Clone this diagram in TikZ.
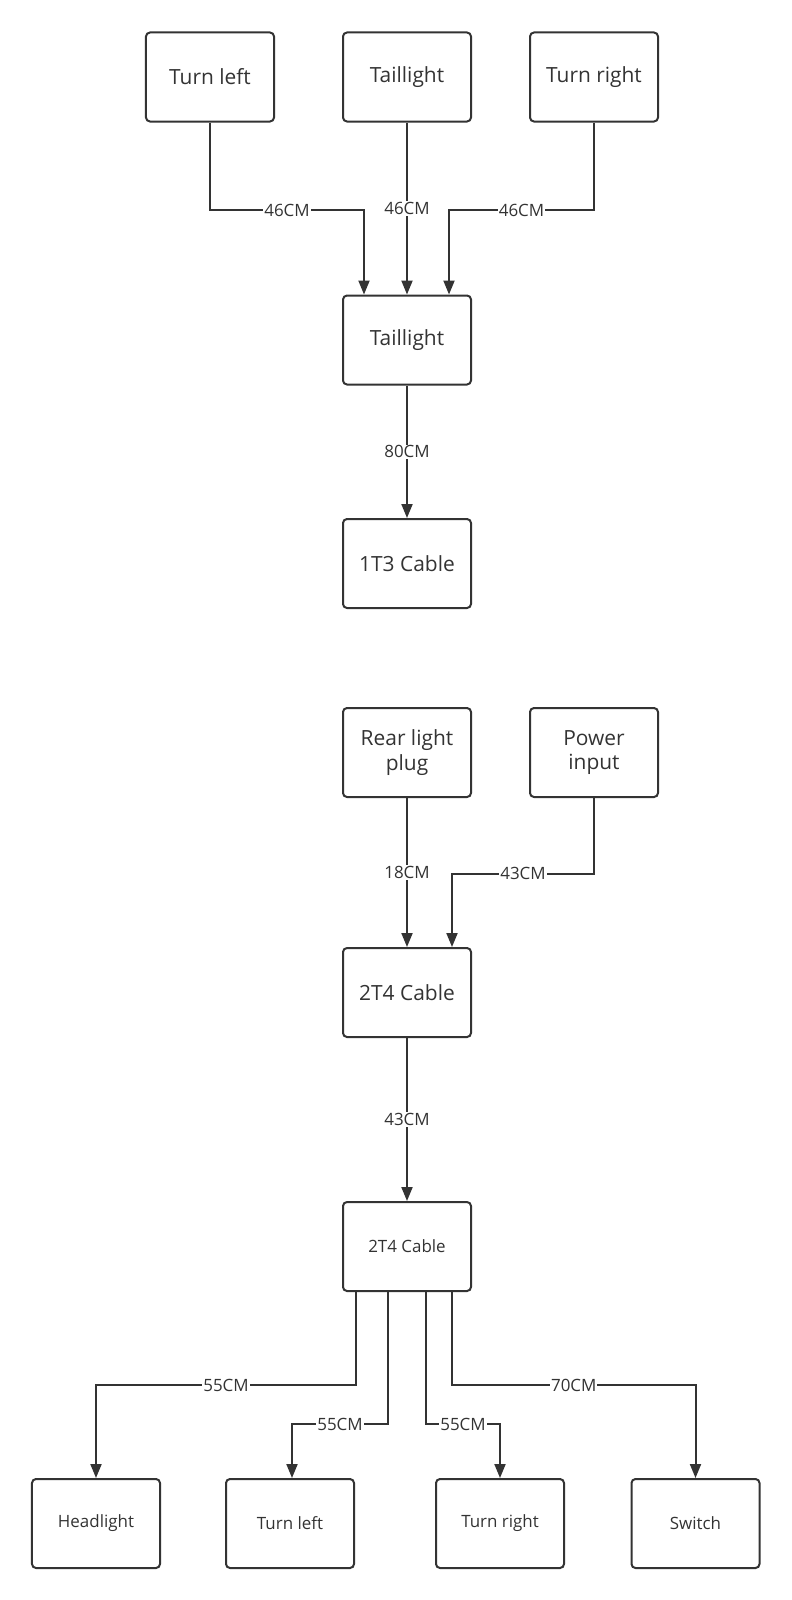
\documentclass[tikz,border=0pt]{standalone}
\usepackage{fontspec}
\setmainfont{Open Sans}
\usepackage{xcolor}
\usepackage{tikz}
\usetikzlibrary{positioning,arrows.meta}

\definecolor{ink}{HTML}{333333}
\tikzset{
  box/.style={draw=ink, line width=2bp, rounded corners=4bp, minimum width=128bp,
    minimum height=89bp, align=center, text=ink, font=\fontsize{21}{25}\selectfont},
  smallbox/.style={box, font=\fontsize{17}{20}\selectfont},
  wire/.style={draw=ink, line width=2bp, -{Triangle[length=14bp,width=11bp]}},
  len/.style={fill=white, text=ink, inner sep=1bp, font=\fontsize{17}{20}\selectfont}
}

\begin{document}
\begin{tikzpicture}[x=1bp, y=-1bp]
  \useasboundingbox (0,0) rectangle (792,1600);

  % first harness
  \node[box] (ttail) at (407,77) {Taillight};
  \node[box] (tleft) [left=67bp of ttail] {Turn left};
  \node[box] (tright) [right=57bp of ttail] {Turn right};
  \node[box] (tail) [below=172bp of ttail] {Taillight};
  \node[box] (cable13) [below=132.5bp of tail] {1T3 Cable};

  \draw[wire] (tleft.south) -- ++(0,87.5) -| node[len, pos=0.25] {46CM} ([xshift=-43bp]tail.north);
  \draw[wire] (ttail.south) -- node[len] {46CM} (tail.north);
  \draw[wire] (tright.south) -- ++(0,87.5) -| node[len, pos=0.25] {46CM} ([xshift=42bp]tail.north);
  \draw[wire] (tail.south) -- node[len] {80CM} (cable13.north);

  % second harness
  \node[box] (plug) [below=98bp of cable13] {Rear light\\plug};
  \node[box] (power) [right=57bp of plug] {Power\\input};
  \node[box] (cableA) [below=149bp of plug] {2T4 Cable};
  \node[smallbox] (cableB) [below=163bp of cableA] {2T4 Cable};

  \node[smallbox] (head) at (96,1523.5) {Headlight};
  \node[smallbox] (bleft) at (290,1523.5) {Turn left};
  \node[smallbox] (bright) at (500,1523.5) {Turn right};
  \node[smallbox] (switch) at (695.5,1523.5) {Switch};

  \draw[wire] (plug.south) -- node[len] {18CM} (cableA.north);
  \draw[wire] (power.south) -- ++(0,75.5) -| node[len, pos=0.25] {43CM} ([xshift=45bp]cableA.north);
  \draw[wire] (cableA.south) -- node[len] {43CM} (cableB.north);

  \draw[wire] ([xshift=-51bp]cableB.south) -- ++(0,93) -| node[len, pos=0.25] {55CM} (head.north);
  \draw[wire] ([xshift=-19bp]cableB.south) -- ++(0,132) -| node[len, pos=0.25] {55CM} ([xshift=2bp]bleft.north);
  \draw[wire] ([xshift=19bp]cableB.south) -- ++(0,132) -| node[len, pos=0.25] {55CM} (bright.north);
  \draw[wire] ([xshift=45bp]cableB.south) -- ++(0,93) -| node[len, pos=0.25] {70CM} (switch.north);
\end{tikzpicture}
\end{document}
